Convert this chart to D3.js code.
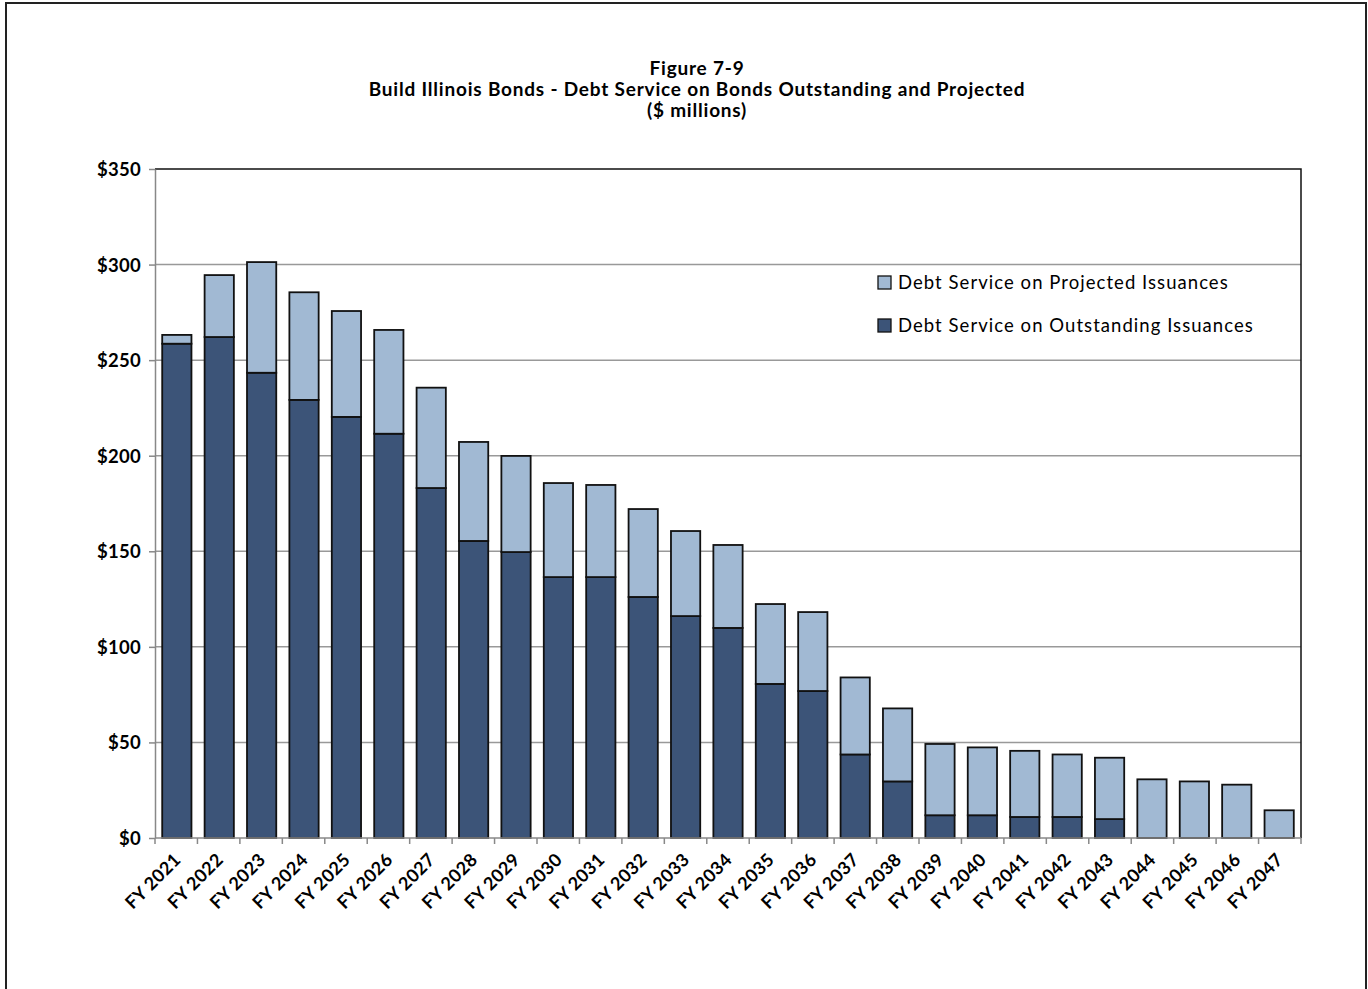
<!DOCTYPE html>
<html>
<head>
<meta charset="utf-8">
<script src="https://cdn.jsdelivr.net/npm/d3@7"></script>
<style>
  html, body { margin: 0; padding: 0; background: #fff; }
  svg { display: block; }
  text { font-family: Lato, "Open Sans", sans-serif; fill: #000; }
</style>
</head>
<body>
<svg id="chart" width="1368" height="989"></svg>
<script>
// Fiscal years shown on the category axis
const years = ["FY 2021","FY 2022","FY 2023","FY 2024","FY 2025","FY 2026","FY 2027","FY 2028","FY 2029",
  "FY 2030","FY 2031","FY 2032","FY 2033","FY 2034","FY 2035","FY 2036","FY 2037","FY 2038","FY 2039",
  "FY 2040","FY 2041","FY 2042","FY 2043","FY 2044","FY 2045","FY 2046","FY 2047"];

// Debt service on bonds already outstanding ($ millions)
const outstanding = [258.6, 262.1, 243.4, 229.2, 220.3, 211.5, 183.1, 155.4, 149.6, 136.5, 136.5, 126.1,
  116.1, 109.9, 80.6, 76.9, 43.7, 29.6, 11.9, 11.9, 11.0, 11.0, 9.9, 0, 0, 0, 0];

// Debt service on projected issuances ($ millions), stacked on top
const projected = [4.6, 32.4, 57.9, 56.3, 55.4, 54.3, 52.5, 51.8, 50.3, 49.2, 48.2, 46.0,
  44.5, 43.4, 41.8, 41.3, 40.3, 38.2, 37.3, 35.5, 34.6, 32.7, 32.1, 30.7, 29.6, 27.9, 14.5];

const yTicks = [0, 50, 100, 150, 200, 250, 300, 350];

const titleLines = ["Figure 7-9",
  "Build Illinois Bonds - Debt Service on Bonds Outstanding and Projected",
  "($ millions)"];

const seriesNames = ["Debt Service on Projected Issuances", "Debt Service on Outstanding Issuances"];
const colors = { outstanding: "#3c5478", projected: "#a1b9d3" };

const svg = d3.select("#chart");
const plot = { left: 155, right: 1301, top: 169, bottom: 838 };

// Outer frame
svg.append("rect")
  .attr("x", 6).attr("y", 3).attr("width", 1360).attr("height", 1000)
  .attr("fill", "none").attr("stroke", "#222").attr("stroke-width", 2);

// Title
const title = svg.append("text")
  .attr("text-anchor", "middle")
  .attr("font-weight", "bold")
  .attr("font-size", 19)
  .attr("letter-spacing", 0.8);
titleLines.forEach((t, i) => {
  title.append("tspan").attr("x", 697).attr("y", 75 + i * 21).text(t);
});

const x = d3.scaleBand().domain(years).range([plot.left, plot.right]).paddingInner(0.31).paddingOuter(0.17);
const y = d3.scaleLinear().domain([0, 350]).range([plot.bottom, plot.top]);

// Horizontal gridlines
svg.append("g")
  .selectAll("line")
  .data(yTicks.filter(d => d > 0 && d < 350))
  .join("line")
  .attr("x1", plot.left).attr("x2", plot.right)
  .attr("y1", d => y(d)).attr("y2", d => y(d))
  .attr("stroke", "#999").attr("stroke-width", 1.5);

// Plot area frame (top and right edges)
svg.append("path")
  .attr("d", `M${plot.left},${plot.top}H${plot.right}V${plot.bottom}`)
  .attr("fill", "none").attr("stroke", "#111").attr("stroke-width", 1.5);

// Stacked bars
const rows = years.map((yr, i) => ({ yr, outstanding: outstanding[i], projected: projected[i] }));
const stack = d3.stack().keys(["outstanding", "projected"])(rows);

svg.append("g")
  .selectAll("g")
  .data(stack)
  .join("g")
  .attr("fill", d => colors[d.key])
  .selectAll("rect")
  .data(d => d.filter(s => s[1] - s[0] > 0))
  .join("rect")
  .attr("x", d => x(d.data.yr))
  .attr("width", x.bandwidth())
  .attr("y", d => y(d[1]))
  .attr("height", d => y(d[0]) - y(d[1]))
  .attr("stroke", "#111")
  .attr("stroke-width", 1.8);

// Y axis
const yAxis = svg.append("g")
  .attr("transform", `translate(${plot.left},0)`)
  .call(d3.axisLeft(y).tickValues(yTicks).tickSize(6).tickSizeOuter(0).tickFormat(d => "$" + d));
yAxis.select(".domain").attr("stroke", "#888").attr("stroke-width", 1.5);
yAxis.selectAll(".tick line").attr("stroke", "#888").attr("stroke-width", 1.5);
yAxis.selectAll(".tick text")
  .attr("x", -14).attr("dy", "0.35em")
  .attr("font-size", 18.5).attr("font-weight", "bold").attr("letter-spacing", 0.3)
  .attr("font-family", "Lato, sans-serif").attr("fill", "#000");

// X axis: ticks sit between categories
const xAxis = svg.append("g").attr("transform", `translate(0,${plot.bottom})`);
xAxis.append("line")
  .attr("x1", plot.left).attr("x2", plot.right)
  .attr("stroke", "#888").attr("stroke-width", 1.5);
const boundaries = d3.range(years.length + 1).map(i => plot.left + i * (plot.right - plot.left) / years.length);
xAxis.selectAll(".xtick")
  .data(boundaries)
  .join("line")
  .attr("class", "xtick")
  .attr("x1", d => d).attr("x2", d => d)
  .attr("y1", 0).attr("y2", 6)
  .attr("stroke", "#888").attr("stroke-width", 1.5);

xAxis.selectAll(".xlabel")
  .data(years)
  .join("text")
  .attr("class", "xlabel")
  .attr("text-anchor", "end")
  .attr("font-size", 18).attr("font-weight", "bold").attr("letter-spacing", 0.3)
  .attr("transform", d => `translate(${x(d) + x.bandwidth() / 2 + 5},${23}) rotate(-45)`)
  .text(d => d);

// Legend
const legend = svg.append("g").attr("transform", "translate(878,276)");
const legendItems = [
  { name: seriesNames[0], color: colors.projected },
  { name: seriesNames[1], color: colors.outstanding }
];
legendItems.forEach((item, i) => {
  const g = legend.append("g").attr("transform", `translate(0,${i * 43})`);
  g.append("rect").attr("x", 0).attr("y", 0).attr("width", 13).attr("height", 13)
    .attr("fill", item.color).attr("stroke", "#111").attr("stroke-width", 1.3);
  g.append("text").attr("x", 20).attr("y", 13).attr("font-size", 18.5)
    .attr("letter-spacing", 1.05).text(item.name);
});
</script>
</body>
</html>
